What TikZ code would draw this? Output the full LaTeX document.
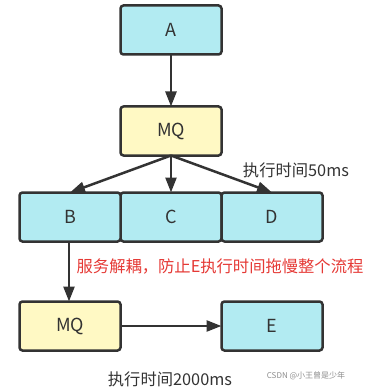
\documentclass[tikz,border=0pt]{standalone}
\usepackage{fontspec}
\setmainfont{Noto Sans CJK SC}
\usetikzlibrary{arrows.meta, positioning}
\definecolor{svc}{RGB}{178,235,242}
\definecolor{queue}{RGB}{255,249,196}
\definecolor{edge}{RGB}{51,51,51}
\definecolor{warn}{RGB}{229,57,53}

\begin{document}
\begin{tikzpicture}[
      x=1pt, y=-1pt,
      box/.style={rectangle, rounded corners=3pt, draw=edge, line width=2.5pt,
                  minimum width=101pt, minimum height=49pt, inner sep=0pt,
                  outer sep=0pt, font=\fontsize{18}{20}\selectfont, text=edge},
      note/.style={font=\fontsize{16.3}{18}\selectfont, inner sep=0pt},
      arr/.style={-{Triangle[length=15pt, width=11pt]}, line width=2.5pt, draw=edge}
    ]
    \useasboundingbox (0,0) rectangle (366,390);
    \node[box, fill=svc] (a) at (171,30) {A};
    \node[box, fill=queue, below=52pt of a] (mq) {MQ};
    \node[box, fill=svc, below=37pt of mq] (c) {C};
    \node[box, fill=svc, left=0pt of c] (b) {B};
    \node[box, fill=svc, right=0pt of c] (d) {D};
    \node[box, fill=queue, below=60pt of b] (mqe) {MQ};
    \node[box, fill=svc, right=101pt of mqe] (e) {E};
    \draw[arr] (a) -- (mq);
    \draw[arr] (mq.south) -- (b.north);
    \draw[arr] (mq.south) -- (c.north);
    \draw[arr] (mq.south) -- (d.north);
    \draw[arr] ([xshift=-1pt]b.south) -- ([xshift=-1pt]mqe.north);
    \draw[arr] (mqe) -- (e);
    % labels
    \node[note, text=edge] (t50) at (296,170) {执行时间50ms};
    \node[note, text=warn] (why) at (220,267) {服务解耦，防止E执行时间拖慢整个流程};
    \node[note, text=edge] (t2000) at (170,379) {执行时间2000ms};
    \node[font=\fontsize{8}{10}\selectfont, text=black!45, inner sep=0pt] (mark) at (306,376) {CSDN @小王曾是少年};
  \end{tikzpicture}
\end{document}
